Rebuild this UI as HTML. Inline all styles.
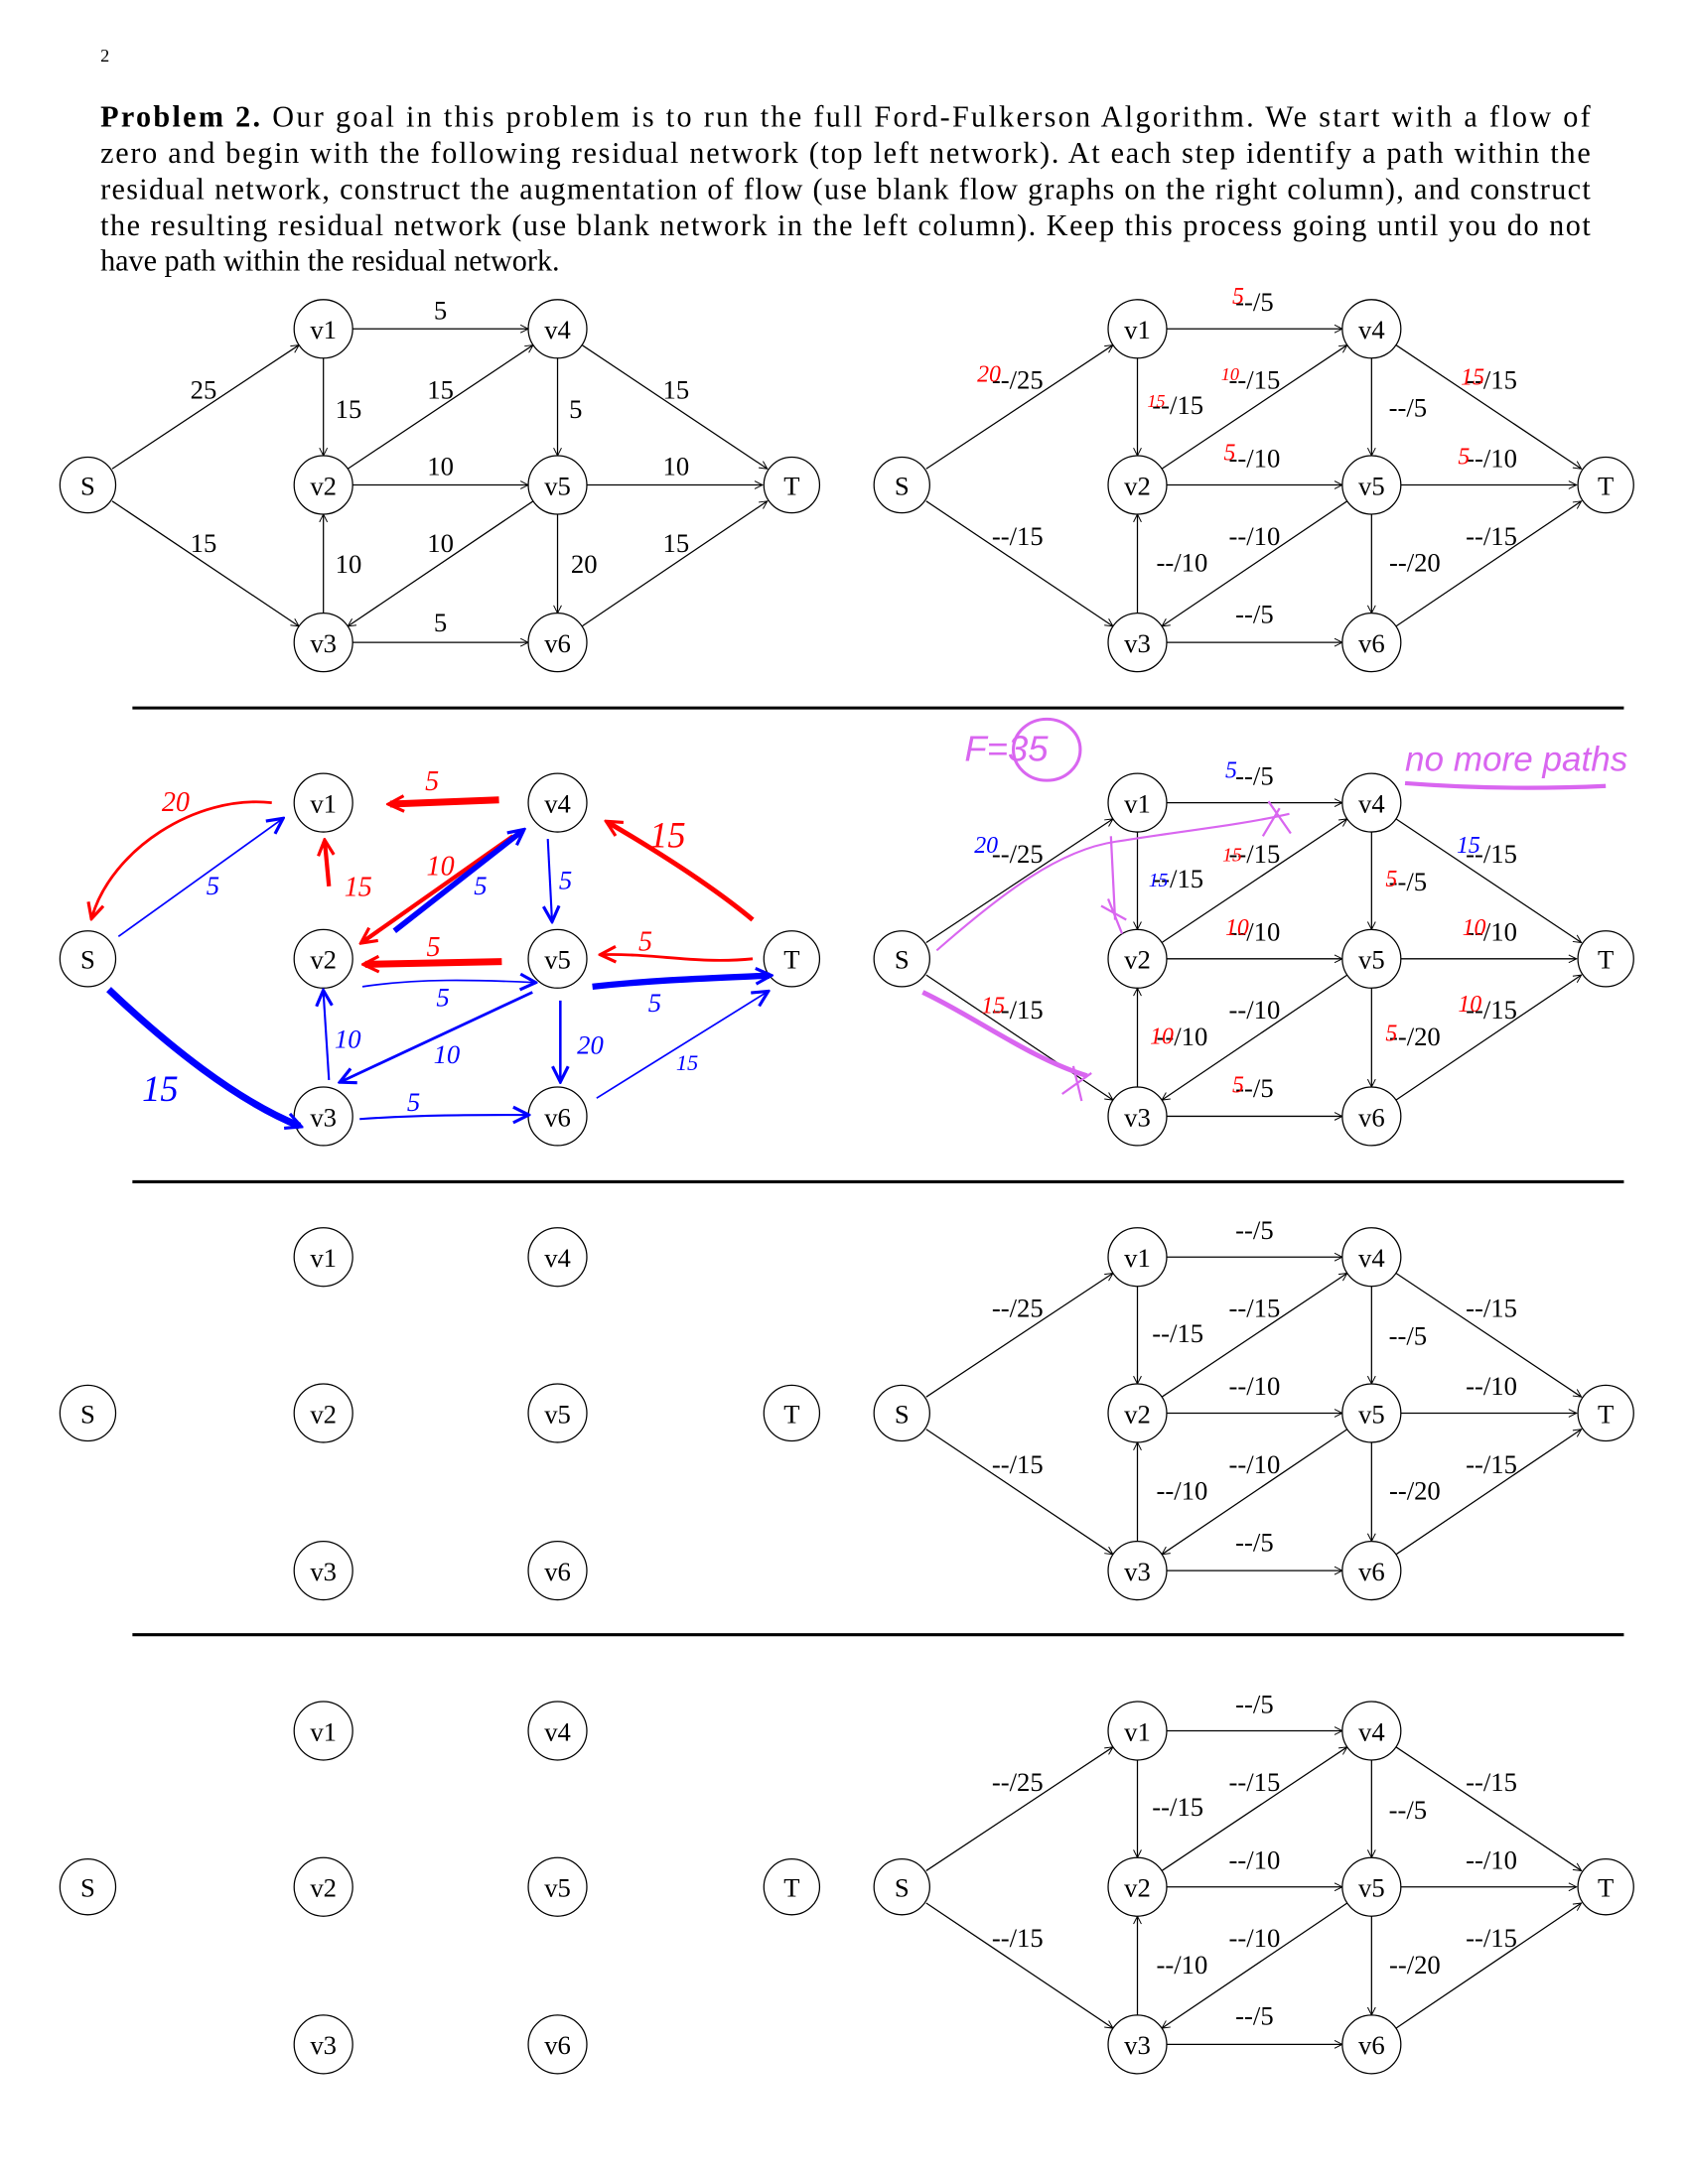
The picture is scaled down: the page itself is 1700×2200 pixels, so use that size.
<!DOCTYPE html>
<html><head><meta charset="utf-8"><style>
html,body{margin:0;padding:0;background:#fff;}
svg{display:block;}
text{font-family:"Liberation Serif",serif;fill:#000;}
.n{font-size:19px;text-anchor:middle;}
.l{font-size:19px;text-anchor:middle;}
.p{font-size:21.5px;}
.hw{font-family:"Liberation Sans",sans-serif;font-style:italic;}
</style></head><body>
<svg width="1700" height="2200" viewBox="0 0 1211 1567" preserveAspectRatio="xMinYMin meet" xmlns="http://www.w3.org/2000/svg">
<defs>
<marker id="a" viewBox="0 0 10 10" refX="9" refY="5" markerWidth="7" markerHeight="7" orient="auto" markerUnits="userSpaceOnUse"><path d="M1,1 L9,5 L1,9" fill="none" stroke="#000" stroke-width="1"/></marker>
<marker id="ar" viewBox="0 0 10 10" refX="8" refY="5" markerWidth="14" markerHeight="14" orient="auto" markerUnits="userSpaceOnUse"><path d="M1,1 L9,5 L1,9" fill="none" stroke="#f00" stroke-width="1.6"/></marker>
<marker id="ab" viewBox="0 0 10 10" refX="8" refY="5" markerWidth="14" markerHeight="14" orient="auto" markerUnits="userSpaceOnUse"><path d="M1,1 L9,5 L1,9" fill="none" stroke="#00f" stroke-width="1.6"/></marker>
<g id="E" stroke="#000" stroke-width="0.9" fill="none" marker-end="url(#a)">
<line x1="80.5" y1="336.4" x2="214.5" y2="247.6"/>
<line x1="80.5" y1="359.6" x2="214.5" y2="449.4"/>
<line x1="253" y1="236" x2="379" y2="236"/>
<line x1="232" y1="257" x2="232" y2="327"/>
<line x1="249.5" y1="336.4" x2="382.5" y2="247.6"/>
<line x1="253" y1="348" x2="379" y2="348"/>
<line x1="232" y1="440" x2="232" y2="369"/>
<line x1="382.5" y1="359.6" x2="249.5" y2="449.4"/>
<line x1="253" y1="461" x2="379" y2="461"/>
<line x1="400" y1="257" x2="400" y2="327"/>
<line x1="417.5" y1="247.6" x2="550.5" y2="336.4"/>
<line x1="421" y1="348" x2="547" y2="348"/>
<line x1="400" y1="369" x2="400" y2="440"/>
<line x1="417.5" y1="449.4" x2="550.5" y2="359.6"/>
</g>
<g id="C" stroke="#000" stroke-width="0.9" fill="#fff">
<circle cx="63" cy="348" r="20"/><circle cx="232" cy="236" r="21"/><circle cx="400" cy="236" r="21"/>
<circle cx="232" cy="348" r="21"/><circle cx="400" cy="348" r="21"/><circle cx="568" cy="348" r="20"/>
<circle cx="232" cy="461" r="21"/><circle cx="400" cy="461" r="21"/>
</g>
</defs>
<text x="72" y="44" style="font-size:13px">2</text>
<g class="p">
<text x="72" y="91" textLength="1069" lengthAdjust="spacing"><tspan font-weight="bold">Problem 2.</tspan> Our goal in this problem is to run the full Ford-Fulkerson Algorithm. We start with a flow of</text>
<text x="72" y="117" textLength="1069" lengthAdjust="spacing">zero and begin with the following residual network (top left network). At each step identify a path within the</text>
<text x="72" y="143" textLength="1069" lengthAdjust="spacing">residual network, construct the augmentation of flow (use blank flow graphs on the right column), and construct</text>
<text x="72" y="169" textLength="1069" lengthAdjust="spacing">the resulting residual network (use blank network in the left column). Keep this process going until you do not</text>
<text x="72" y="194">have path within the residual network.</text>
</g>
<g stroke="#000" stroke-width="2.2">
<line x1="95" y1="508" x2="1165" y2="508"/><line x1="95" y1="848" x2="1165" y2="848"/><line x1="95" y1="1173" x2="1165" y2="1173"/>
</g>
<use href="#E"/><use href="#C"/>
<use href="#E" transform="translate(584,0)"/><use href="#C" transform="translate(584,0)"/>
<use href="#E" transform="translate(584,340)"/><use href="#C" transform="translate(584,340)"/>
<use href="#E" transform="translate(584,666)"/><use href="#C" transform="translate(584,666)"/>
<use href="#E" transform="translate(584,1006)"/><use href="#C" transform="translate(584,1006)"/>
<use href="#C" transform="translate(0,340)"/><use href="#C" transform="translate(0,666)"/><use href="#C" transform="translate(0,1006)"/>

<g class="n">
<text x="63" y="355">S</text><text x="232" y="243">v1</text><text x="400" y="243">v4</text><text x="232" y="355">v2</text><text x="400" y="355">v5</text><text x="568" y="355">T</text><text x="232" y="468">v3</text><text x="400" y="468">v6</text>
<text x="647" y="355">S</text><text x="816" y="243">v1</text><text x="984" y="243">v4</text><text x="816" y="355">v2</text><text x="984" y="355">v5</text><text x="1152" y="355">T</text><text x="816" y="468">v3</text><text x="984" y="468">v6</text>
<text x="63" y="695">S</text><text x="232" y="583">v1</text><text x="400" y="583">v4</text><text x="232" y="695">v2</text><text x="400" y="695">v5</text><text x="568" y="695">T</text><text x="232" y="808">v3</text><text x="400" y="808">v6</text>
<text x="647" y="695">S</text><text x="816" y="583">v1</text><text x="984" y="583">v4</text><text x="816" y="695">v2</text><text x="984" y="695">v5</text><text x="1152" y="695">T</text><text x="816" y="808">v3</text><text x="984" y="808">v6</text>
<text x="63" y="1021">S</text><text x="232" y="909">v1</text><text x="400" y="909">v4</text><text x="232" y="1021">v2</text><text x="400" y="1021">v5</text><text x="568" y="1021">T</text><text x="232" y="1134">v3</text><text x="400" y="1134">v6</text>
<text x="647" y="1021">S</text><text x="816" y="909">v1</text><text x="984" y="909">v4</text><text x="816" y="1021">v2</text><text x="984" y="1021">v5</text><text x="1152" y="1021">T</text><text x="816" y="1134">v3</text><text x="984" y="1134">v6</text>
<text x="63" y="1361">S</text><text x="232" y="1249">v1</text><text x="400" y="1249">v4</text><text x="232" y="1361">v2</text><text x="400" y="1361">v5</text><text x="568" y="1361">T</text><text x="232" y="1474">v3</text><text x="400" y="1474">v6</text>
<text x="647" y="1361">S</text><text x="816" y="1249">v1</text><text x="984" y="1249">v4</text><text x="816" y="1361">v2</text><text x="984" y="1361">v5</text><text x="1152" y="1361">T</text><text x="816" y="1474">v3</text><text x="984" y="1474">v6</text>
</g>

<g class="l">
<text x="316" y="229">5</text><text x="146" y="286">25</text><text x="250" y="300">15</text><text x="316" y="286">15</text><text x="413" y="300">5</text><text x="485" y="286">15</text>
<text x="316" y="341">10</text><text x="485" y="341">10</text><text x="146" y="396">15</text><text x="250" y="411">10</text><text x="316" y="396">10</text><text x="419" y="411">20</text><text x="485" y="396">15</text><text x="316" y="453">5</text>
</g>

<g class="l">
<text x="900" y="223">--/5</text><text x="730" y="279">--/25</text><text x="845" y="297">--/15</text><text x="900" y="279">--/15</text><text x="1010" y="299">--/5</text><text x="1070" y="279">--/15</text>
<text x="900" y="335">--/10</text><text x="1070" y="335">--/10</text><text x="730" y="391">--/15</text><text x="848" y="410">--/10</text><text x="900" y="391">--/10</text><text x="1015" y="410">--/20</text><text x="1070" y="391">--/15</text><text x="900" y="447">--/5</text>
</g>
<g class="l" transform="translate(0,340)">
<text x="900" y="223">--/5</text><text x="730" y="279">--/25</text><text x="845" y="297">--/15</text><text x="900" y="279">--/15</text><text x="1010" y="299">--/5</text><text x="1070" y="279">--/15</text>
<text x="900" y="335">--/10</text><text x="1070" y="335">--/10</text><text x="730" y="391">--/15</text><text x="848" y="410">--/10</text><text x="900" y="391">--/10</text><text x="1015" y="410">--/20</text><text x="1070" y="391">--/15</text><text x="900" y="447">--/5</text>
</g>
<g class="l" transform="translate(0,666)">
<text x="900" y="223">--/5</text><text x="730" y="279">--/25</text><text x="845" y="297">--/15</text><text x="900" y="279">--/15</text><text x="1010" y="299">--/5</text><text x="1070" y="279">--/15</text>
<text x="900" y="335">--/10</text><text x="1070" y="335">--/10</text><text x="730" y="391">--/15</text><text x="848" y="410">--/10</text><text x="900" y="391">--/10</text><text x="1015" y="410">--/20</text><text x="1070" y="391">--/15</text><text x="900" y="447">--/5</text>
</g>
<g class="l" transform="translate(0,1006)">
<text x="900" y="223">--/5</text><text x="730" y="279">--/25</text><text x="845" y="297">--/15</text><text x="900" y="279">--/15</text><text x="1010" y="299">--/5</text><text x="1070" y="279">--/15</text>
<text x="900" y="335">--/10</text><text x="1070" y="335">--/10</text><text x="730" y="391">--/15</text><text x="848" y="410">--/10</text><text x="900" y="391">--/10</text><text x="1015" y="410">--/20</text><text x="1070" y="391">--/15</text><text x="900" y="447">--/5</text>
</g>

<g class="hw" style="font-size:17px">
<text x="884" y="218" fill="#f00" style="fill:#f00">5</text><text x="701" y="274" style="fill:#f00">20</text><text x="823" y="292" style="fill:#f00;font-size:13px">15</text><text x="876" y="273" style="fill:#f00;font-size:13px">10</text><text x="1048" y="276" style="fill:#f00">15</text><text x="878" y="330" style="fill:#f00">5</text><text x="1046" y="333" style="fill:#f00">5</text>
</g>
<g class="hw" style="font-size:17px">
<text x="879" y="558" style="fill:#00f">5</text><text x="699" y="612" style="fill:#00f">20</text><text x="824" y="636" style="fill:#00f;font-size:14px">15</text><text x="877" y="618" style="fill:#f00;font-size:14px">15</text>
<text x="994" y="636" style="fill:#f00">5</text><text x="1045" y="612" style="fill:#00f">15</text><text x="879" y="671" style="fill:#f00">10</text><text x="1049" y="671" style="fill:#f00">10</text>
<text x="704" y="727" style="fill:#f00">15</text><text x="825" y="749" style="fill:#f00">10</text><text x="994" y="747" style="fill:#f00">5</text><text x="1046" y="726" style="fill:#f00">10</text><text x="884" y="784" style="fill:#f00">5</text>
</g>
<g stroke="#d966f0" fill="none" stroke-width="1.6">
<ellipse cx="751" cy="538" rx="24" ry="22" stroke-width="2.2"/>
<path d="M672,682 C720,640 760,610 800,604 C850,596 890,592 925,584" stroke-width="1.5"/>
<path d="M906,600 L918,580 M910,575 L926,598"/>
<path d="M797,600 L800,660 M790,650 L808,660 M795,645 L805,670"/>
<path d="M662,712 C700,730 740,760 780,772" stroke-width="3.5"/>
<path d="M762,785 L783,770 M770,765 L776,790"/>
<path d="M1008,562 C1060,566 1110,566 1152,564" stroke-width="3"/>
</g>
<text x="692" y="546" class="hw" style="font-size:26px;fill:#d966f0">F=35</text>
<text x="1008" y="553" class="hw" style="font-size:25px;fill:#d966f0">no more paths</text>

<g stroke="#f00" fill="none">
<path d="M195,576 C140,570 80,610 66,658" stroke-width="2" marker-end="url(#ar)"/>
<path d="M358,574 L280,577" stroke-width="5" marker-end="url(#ar)"/>
<path d="M236,636 L233,604" stroke-width="3" marker-end="url(#ar)"/>
<path d="M360,690 L262,692" stroke-width="5" marker-end="url(#ar)"/>
<path d="M368,600 L260,676" stroke-width="3" marker-end="url(#ar)"/>
<path d="M540,660 C510,635 470,610 436,590" stroke-width="3.5" marker-end="url(#ar)"/>
<path d="M540,688 C500,692 470,684 432,685" stroke-width="2" marker-end="url(#ar)"/>
</g>
<g class="hw" style="font-size:20px">
<text x="116" y="582" style="fill:#f00">20</text><text x="305" y="567" style="fill:#f00">5</text><text x="247" y="643" style="fill:#f00">15</text><text x="306" y="686" style="fill:#f00">5</text><text x="306" y="628" style="fill:#f00">10</text><text x="466" y="608" style="fill:#f00;font-size:26px">15</text><text x="458" y="682" style="fill:#f00">5</text>
</g>
<g stroke="#00f" fill="none">
<path d="M85,672 L202,588" stroke-width="1.2" marker-end="url(#ab)"/>
<path d="M283,668 L375,596" stroke-width="4" marker-end="url(#ab)"/>
<path d="M393,602 L396,660" stroke-width="1.5" marker-end="url(#ab)"/>
<path d="M260,708 C300,702 340,703 383,705" stroke-width="1.2" marker-end="url(#ab)"/>
<path d="M425,708 C470,703 510,702 552,700" stroke-width="4.5" marker-end="url(#ab)"/>
<path d="M382,712 L245,776" stroke-width="2" marker-end="url(#ab)"/>
<path d="M236,775 L232,712" stroke-width="1.5" marker-end="url(#ab)"/>
<path d="M78,710 C120,750 170,790 215,808" stroke-width="5" marker-end="url(#ab)"/>
<path d="M402,718 L402,775" stroke-width="1.8" marker-end="url(#ab)"/>
<path d="M428,788 L550,712" stroke-width="1.2" marker-end="url(#ab)"/>
<path d="M258,803 C300,800 340,800 378,800" stroke-width="1.5" marker-end="url(#ab)"/>
</g>
<g class="hw" style="font-size:19px">
<text x="148" y="642" style="fill:#00f">5</text><text x="340" y="642" style="fill:#00f">5</text><text x="401" y="638" style="fill:#00f">5</text><text x="313" y="722" style="fill:#00f">5</text><text x="465" y="726" style="fill:#00f">5</text>
<text x="311" y="763" style="fill:#00f">10</text><text x="240" y="752" style="fill:#00f">10</text><text x="102" y="790" style="fill:#00f;font-size:26px">15</text><text x="414" y="756" style="fill:#00f">20</text><text x="485" y="768" style="fill:#00f;font-size:16px">15</text><text x="292" y="797" style="fill:#00f">5</text>
</g>
</svg>
</body></html>
